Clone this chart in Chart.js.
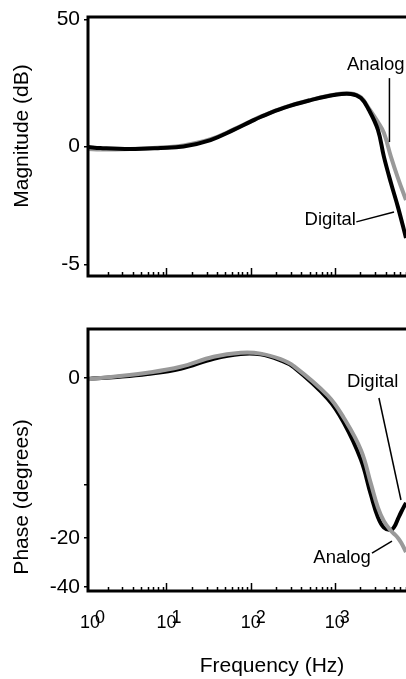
<!DOCTYPE html>
<html>
<head>
<meta charset="utf-8">
<script src="https://cdn.jsdelivr.net/npm/chart.js@4.4.0/dist/chart.umd.min.js"></script>
<style>
  html, body { margin: 0; padding: 0; background: #fff; }
  #wrap { position: relative; width: 406px; height: 679px; overflow: hidden; }
  canvas { position: absolute; left: 0; }
</style>
</head>
<body>
<div id="wrap">
  <canvas id="magChart" width="406" height="300" style="top:0"></canvas>
  <canvas id="phaseChart" width="406" height="379" style="top:300px"></canvas>
</div>
<script>
  // Magnitude response (Hz, dB)
  const freqMag    = [1.18, 1.64, 3.7, 8.5, 15.9, 33.4, 62.8, 100, 131, 247, 518, 973, 1550, 2040, 2540, 3250, 3830, 4640, 5620, 7000];
  const digitalMag = [-0.02, -0.06, -0.1, -0.06, 0.0, 0.25, 0.64, 0.96, 1.14, 1.49, 1.79, 1.99, 2.03, 1.87, 1.41, 0.64, -0.4, -1.41, -2.34, -3.53];
  const analogMag  = [-0.1, -0.12, -0.1, -0.04, 0.04, 0.28, 0.66, 0.97, 1.15, 1.5, 1.8, 2.0, 2.05, 1.9, 1.47, 0.94, 0.52, -0.4, -1.22, -2.07];

  // Phase response (Hz, degrees)
  const freqPhase    = [1.18, 2.34, 5.94, 14.7, 36.3, 76.1, 131, 227, 325, 826, 1280, 2040, 2680, 3250, 3830, 4640, 5080, 5620, 6140, 7000];
  const digitalPhase = [-0.12, 0.1, 0.5, 1.15, 2.4, 3.0, 2.95, 2.2, 1.35, -2.6, -5.6, -10.2, -14.6, -17.4, -18.7, -19.0, -18.6, -17.6, -16.75, -15.6];
  const analogPhase  = [-0.15, 0.15, 0.65, 1.4, 2.65, 3.15, 3.05, 2.35, 1.5, -2.2, -5.0, -9.0, -13.2, -16.2, -17.9, -19.1, -19.5, -20.0, -20.6, -21.75];

  // tick labels
  const magTicks = [4.9, 0, -4.55];
  const magTickLabels = ['50', '0', '-5'];
  const phaseTicks = [0, -13.4, -20, -26.1];
  const phaseTickLabels = ['0', '', '-20', '-40'];
  const decades = [1, 10, 100, 1000];
  const decadeExp = ['0', '1', '2', '3'];

  const FONT = '"Liberation Sans", Arial, Helvetica, sans-serif';
  const GRAY = '#999999';

  function pts(xs, ys) {
    return xs.map((x, i) => ({ x: x, y: ys[i] }));
  }

  // frame, inside log ticks, titles and the little labels with leader lines
  const framePlugin = {
    id: 'frame',
    afterDraw(chart, args, opts) {
      const ctx = chart.ctx, a = chart.chartArea;
      const xs = chart.scales.x, ys = chart.scales.y;
      ctx.save();
      ctx.strokeStyle = '#000';
      ctx.fillStyle = '#000';

      ctx.lineWidth = 3;
      ctx.beginPath();
      ctx.moveTo(a.left, a.bottom);
      ctx.lineTo(a.left, a.top);
      ctx.lineTo(chart.width, a.top);
      ctx.moveTo(a.left - 1.5, a.bottom);
      ctx.lineTo(chart.width, a.bottom);
      ctx.stroke();

      ctx.lineWidth = 1.5;
      decades.forEach(d => {
        for (let m = 1; m <= 9; m++) {
          const v = d * m;
          if (v < xs.min || v > xs.max) continue;
          const px = Math.round(xs.getPixelForValue(v)) + 0.5;
          const len = m === 1 ? 8 : 4;
          ctx.beginPath();
          ctx.moveTo(px, a.bottom);
          ctx.lineTo(px, a.bottom - len);
          ctx.stroke();
        }
      });

      if (opts.xLabels) {
        decades.forEach((d, i) => {
          const px = Math.max(xs.getPixelForValue(d), a.left + 2);
          const py = a.bottom + 32;
          ctx.font = '18px ' + FONT;
          ctx.textAlign = 'center';
          ctx.textBaseline = 'middle';
          ctx.fillText('10', px, py);
          ctx.fillText(decadeExp[i], px + 10, py - 5);
        });
      }

      // axis titles
      ctx.font = '21px ' + FONT;
      ctx.textAlign = 'center';
      ctx.textBaseline = 'middle';
      if (opts.yTitle) {
        ctx.save();
        ctx.translate(opts.yTitle.x, opts.yTitle.y);
        ctx.rotate(-Math.PI / 2);
        ctx.fillText(opts.yTitle.text, 0, 0);
        ctx.restore();
      }
      if (opts.xTitle) {
        ctx.fillText(opts.xTitle.text, opts.xTitle.x, opts.xTitle.y);
      }

      // annotations (data coordinates)
      ctx.font = '18.5px ' + FONT;
      (opts.notes || []).forEach(n => {
        ctx.textAlign = n.align;
        ctx.fillText(n.text, xs.getPixelForValue(n.fx), ys.getPixelForValue(n.fy));
      });
      ctx.lineWidth = 1.5;
      (opts.leaders || []).forEach(l => {
        ctx.beginPath();
        ctx.moveTo(xs.getPixelForValue(l[0]), ys.getPixelForValue(l[1]));
        ctx.lineTo(xs.getPixelForValue(l[2]), ys.getPixelForValue(l[3]));
        ctx.stroke();
      });
      ctx.restore();
    }
  };

  function makeChart(id, datasets, yMin, yMax, tickVals, tickLabels, padding, frameOpts) {
    const ctx = document.getElementById(id).getContext('2d');
    return new Chart(ctx, {
      type: 'line',
      data: { datasets: datasets },
      options: {
        responsive: false,
        animation: false,
        devicePixelRatio: 1,
        events: [],
        layout: { padding: padding },
        elements: { point: { radius: 0 }, line: { tension: 0.4 } },
        plugins: {
          legend: { display: false },
          tooltip: { enabled: false },
          frame: frameOpts
        },
        scales: {
          x: {
            type: 'logarithmic',
            min: 1.17,
            max: 7000,
            ticks: { display: false },
            grid: { display: false },
            border: { display: false },
            afterFit(scale) { scale.height = 0; }
          },
          y: {
            min: yMin,
            max: yMax,
            afterBuildTicks(scale) {
              scale.ticks = tickVals.map(v => ({ value: v }));
            },
            ticks: {
              color: '#000',
              padding: 4,
              font: { family: FONT, size: 21 },
              callback: (v, i) => tickLabels[i]
            },
            grid: {
              drawOnChartArea: false,
              drawTicks: true,
              tickLength: 4,
              color: '#000',
              lineWidth: 1.5
            },
            border: { display: false },
            afterFit(scale) { scale.width = 88; }
          }
        }
      },
      plugins: [framePlugin]
    });
  }

  // Magnitude: black (digital) drawn over gray (analog)
  makeChart('magChart', [
    { label: 'Digital', data: pts(freqMag, digitalMag), borderColor: '#000', borderWidth: 4 },
    { label: 'Analog', data: pts(freqMag, analogMag), borderColor: GRAY, borderWidth: 4 }
  ], -5, 5, magTicks, magTickLabels, { top: 17, right: 0, bottom: 24, left: 0 }, {
    yTitle: { text: 'Magnitude (dB)', x: 22, y: 136 },
    notes: [
      { text: 'Analog', fx: 1390, fy: 3.15, align: 'left' },
      { text: 'Digital', fx: 1780, fy: -2.84, align: 'right' }
    ],
    leaders: [
      [4450, 2.64, 4450, 0.17],
      [1800, -2.91, 5040, -2.53]
    ]
  });

  // Phase: gray (analog) drawn over black (digital)
  makeChart('phaseChart', [
    { label: 'Analog', data: pts(freqPhase, analogPhase), borderColor: GRAY, borderWidth: 4 },
    { label: 'Digital', data: pts(freqPhase, digitalPhase), borderColor: '#000', borderWidth: 4 }
  ], -26.625, 6.125, phaseTicks, phaseTickLabels, { top: 29, right: 0, bottom: 88, left: 0 }, {
    xLabels: true,
    yTitle: { text: 'Phase (degrees)', x: 22, y: 197 },
    xTitle: { text: 'Frequency (Hz)', x: 272, y: 366 },
    notes: [
      { text: 'Digital', fx: 1390, fy: -0.5, align: 'left' },
      { text: 'Analog', fx: 2680, fy: -22.5, align: 'right' }
    ],
    leaders: [
      [3340, -2.5, 6100, -15.25],
      [2760, -21.9, 4770, -20.4]
    ]
  });
</script>
</body>
</html>
